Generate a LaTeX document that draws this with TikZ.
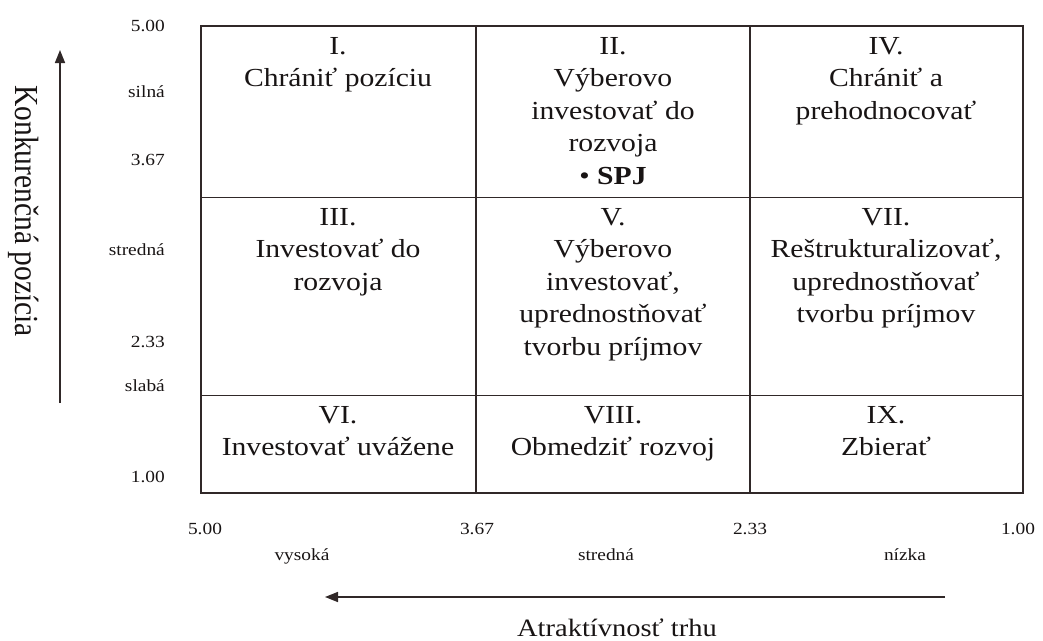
\documentclass[tikz,border=0pt]{standalone}
\usepackage{fontspec}
\setmainfont{Liberation Serif}[FakeStretch=1.14]
\newfontfamily\plainserif{Liberation Serif}
\usetikzlibrary{arrows.meta}
\definecolor{linec}{RGB}{48,40,40}
\definecolor{textc}{RGB}{24,20,20}
\begin{document}
\begin{tikzpicture}[x=1pt,y=-1pt,
  gridline/.style={draw=linec, line width=1.8pt},
  celltext/.style={anchor=north, inner sep=0pt, align=center, text=textc,
    font=\fontsize{26}{32.5}\selectfont},
  ticklbl/.style={inner sep=0pt, text=textc, font=\fontsize{17}{20}\selectfont},
  axisarrow/.style={draw=linec, line width=1.6pt, -{Triangle[length=13pt,width=10pt]}},
  axistitle/.style={inner sep=0pt, text=textc}]
\useasboundingbox (0,0) rectangle (1043,640);
% grid
\coordinate (g00) at (201,26);
\coordinate (g11) at (1023,493);
\draw[gridline] (g00) rectangle (g11);
\draw[gridline] (201,197.5) -- (1023,197.5);
\draw[gridline] (201,395.5) -- (1023,395.5);
\draw[gridline] (476,26) -- (476,493);
\draw[gridline] (750,26) -- (750,493);
% cell texts
\node[celltext] (c1) at (338,37) {I.\\Chrániť pozíciu};
\node[celltext] (c2) at (613,37) {II.\\Výberovo\\investovať do\\rozvoja\\• \textbf{SPJ}};
\node[celltext] (c4) at (886,37) {IV.\\Chrániť a\\prehodnocovať};
\node[celltext] (c3) at (338,208) {III.\\Investovať do\\rozvoja};
\node[celltext] (c5) at (613,208) {V.\\Výberovo\\investovať,\\uprednostňovať\\tvorbu príjmov};
\node[celltext] (c7) at (886,208) {VII.\\Reštrukturalizovať,\\uprednostňovať\\tvorbu príjmov};
\node[celltext] (c6) at (338,406) {VI.\\Investovať uvážene};
\node[celltext] (c8) at (613,406) {VIII.\\Obmedziť rozvoj};
\node[celltext] (c9) at (886,406) {IX.\\Zbierať};
% left tick labels
\node[ticklbl, anchor=east] (l500) at (165,26) {5.00};
\node[ticklbl, anchor=east] (lsil) at (165,92) {silná};
\node[ticklbl, anchor=east] (l367) at (165,160) {3.67};
\node[ticklbl, anchor=east] (lstr) at (165,250) {stredná};
\node[ticklbl, anchor=east] (l233) at (165,342) {2.33};
\node[ticklbl, anchor=east] (lsla) at (165,386) {slabá};
\node[ticklbl, anchor=east] (l100) at (165,477) {1.00};
% bottom tick labels
\node[ticklbl, anchor=base] (b500) at (205,534) {5.00};
\node[ticklbl, anchor=base] (b367) at (477,534) {3.67};
\node[ticklbl, anchor=base] (b233) at (750,534) {2.33};
\node[ticklbl, anchor=base] (b100) at (1018,534) {1.00};
\node[ticklbl, anchor=base] (bvys) at (302,560) {vysoká};
\node[ticklbl, anchor=base] (bstr) at (606,560) {stredná};
\node[ticklbl, anchor=base] (bniz) at (905,560) {nízka};
% vertical axis
\coordinate (va0) at (60,403);
\coordinate (va1) at (60,50);
\coordinate (vb) at (60,358);
\draw[axisarrow] (va0) -- (va1);
\draw[draw=linec, line width=2.8pt] (vb) -- (va0);
\node[axistitle, rotate=-90] (ytitle) at (24,211)
  {\scalebox{1}[1.14]{\plainserif\fontsize{29.5}{30}\selectfont Konkurenčná pozícia}};
% horizontal axis
\coordinate (ha0) at (945,597);
\coordinate (ha1) at (325,597);
\draw[axisarrow] (ha0) -- (ha1);
\node[axistitle, anchor=base, font=\fontsize{25}{30}\selectfont] (xtitle) at (617,636) {Atraktívnosť trhu};
\end{tikzpicture}
\end{document}
